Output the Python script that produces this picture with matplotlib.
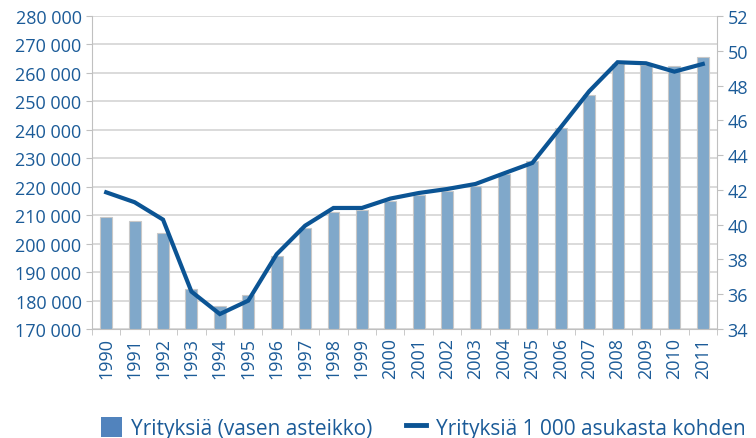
import matplotlib
matplotlib.use("Agg")
import matplotlib.pyplot as plt
import numpy as np
from matplotlib.patches import Patch
from matplotlib.lines import Line2D
from matplotlib.ticker import FuncFormatter

plt.rcParams["font.family"] = ["Open Sans", "DejaVu Sans"]

years = [str(y) for y in range(1990, 2012)]
companies = [209300, 207800, 203700, 184000, 178000, 182000, 195800, 205400,
             211200, 211900, 215100, 217100, 218500, 220400, 224500, 228900,
             240500, 252300, 263100, 262900, 262500, 265700]
per_1000 = [41.86, 41.29, 40.29, 36.15, 34.86, 35.63, 38.3, 39.94, 40.96,
            40.96, 41.5, 41.82, 42.05, 42.34, 42.95, 43.55, 45.6, 47.67,
            49.34, 49.28, 48.8, 49.24]

TXT = "#1b5b98"
LINE = "#0b5494"
BAR = "#80a8ca"
GRID = "#d4d4d4"

fig = plt.figure(figsize=(7.56, 4.39), dpi=100)
ax = fig.add_axes([0.1217, 0.2483, 0.8267, 0.713])
x = np.arange(len(years))
ax.bar(x, companies, 0.42, bottom=0, color=BAR, edgecolor="#c8c8c8",
       linewidth=0.8, zorder=2)
ax.set_ylim(170000, 280000)
ax.set_xlim(-0.5, len(years) - 0.5)
ax.set_yticks(np.arange(170000, 280001, 10000))
ax.yaxis.set_major_formatter(FuncFormatter(lambda v, p: f"{int(v):,}".replace(",", " ")))
ax.grid(True, axis="y", color=GRID, linewidth=1.2, zorder=0)
ax.set_axisbelow(True)
ax.set_xticks(x)
ax.set_xticklabels(years, rotation=90)
ax.set_xticks(np.arange(-0.5, len(years)), minor=True)
ax.tick_params(axis="x", which="major", length=0, colors=TXT, labelsize=13, pad=6)
ax.tick_params(axis="x", which="minor", length=4, color="#c0c0c0")
ax.tick_params(axis="y", length=4, color="#c0c0c0", colors=TXT, labelsize=13)
for s in ("top", "right"):
    ax.spines[s].set_visible(False)
for s in ("left", "bottom"):
    ax.spines[s].set_color("#c0c0c0")

ax2 = ax.twinx()
ax2.plot(x, per_1000, color=LINE, linewidth=3, solid_joinstyle="miter", zorder=3)
ax2.set_ylim(34, 52)
ax2.set_yticks(np.arange(34, 53, 2))
ax2.tick_params(axis="y", length=4, color="#c0c0c0", colors=TXT, labelsize=13)
for s in ("top", "left", "bottom"):
    ax2.spines[s].set_visible(False)
ax2.spines["right"].set_color("#c0c0c0")

handles = [Patch(facecolor="#5183bd", edgecolor="none"),
           Line2D([], [], color=LINE, linewidth=3.5)]
fig.legend(handles, ["Yrityksiä (vasen asteikko)", "Yrityksiä 1 000 asukasta kohden"],
           loc="lower right", bbox_to_anchor=(1.011, -0.045), ncol=2, frameon=False,
           fontsize=15, labelcolor=TXT, handlelength=1.0, handleheight=1.15,
           handletextpad=0.45, columnspacing=1.6)

fig.savefig("out.png", dpi=100)
